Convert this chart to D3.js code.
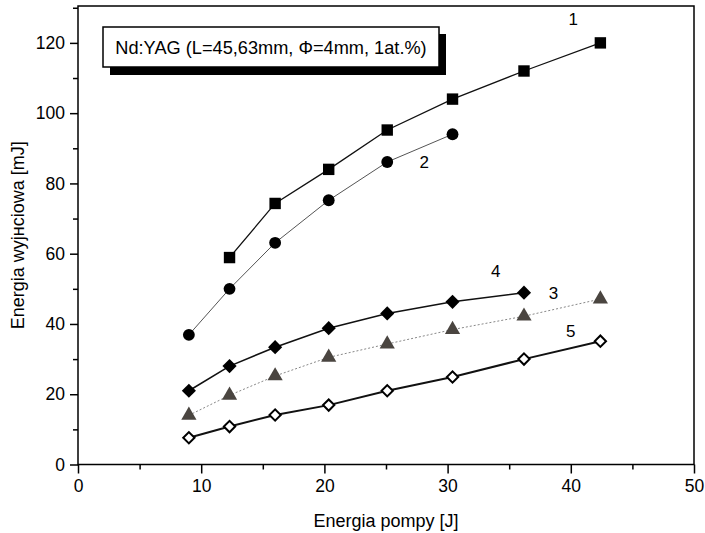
<!DOCTYPE html>
<html><head><meta charset="utf-8">
<script src="https://cdn.jsdelivr.net/npm/d3@7"></script>
<style>body{margin:0;background:#fff}svg{display:block}</style>
</head><body><svg id="c" width="705" height="533"></svg>
<script>
const xPump = [9.0, 12.3, 16.0, 20.35, 25.1, 30.4, 36.2, 42.4];
const s1 = [null, 58.9, 74.3, 84.0, 95.2, 104.0, 112.0, 120.0];
const s2 = [36.9, 50.0, 63.1, 75.2, 86.1, 94.0, null, null];
const s3 = [14.0, 19.7, 25.2, 30.5, 34.3, 38.4, 42.2, 47.1];
const s4 = [21.0, 28.0, 33.4, 38.8, 43.0, 46.3, 48.9, null];
const s5 = [7.6, 10.8, 14.1, 16.9, 21.0, 24.9, 30.0, 35.1];
const seriesNames = ["1", "2", "3", "4", "5"];
const xTicks = [0, 10, 20, 30, 40, 50];
const yTicks = [0, 20, 40, 60, 80, 100, 120];
const legendText = "Nd:YAG (L=45,63mm, \u03A6=4mm, 1at.%)";
const xTitle = "Energia pompy [J]";
const yTitle = "Energia wyjнсiowa [mJ]";

const svg = d3.select("#c");
const L = 78, R = 694, T = 6, B = 464.5;
const x = d3.scaleLinear().domain([0, 50]).range([L, R]);
const y = d3.scaleLinear().domain([0, 130.5]).range([B, T]);
const font = "Liberation Sans, Arial, sans-serif";

// frame
svg.append("rect").attr("x", L).attr("y", T).attr("width", R - L).attr("height", B - T)
  .attr("fill", "none").attr("stroke", "#000").attr("stroke-width", 1.5);

// axes
const xAx = svg.append("g").attr("transform", `translate(0,${B})`)
  .call(d3.axisBottom(x).tickValues(xTicks).tickSize(9).tickPadding(6).tickFormat(d3.format("d")));
const xMin = svg.append("g").attr("transform", `translate(0,${B})`)
  .call(d3.axisBottom(x).tickValues([5, 15, 25, 35, 45]).tickSize(5).tickFormat(""));
const yAx = svg.append("g").attr("transform", `translate(${L},0)`)
  .call(d3.axisLeft(y).tickValues(yTicks).tickSize(8).tickPadding(5).tickFormat(d3.format("d")));
const yMin = svg.append("g").attr("transform", `translate(${L},0)`)
  .call(d3.axisLeft(y).tickValues([10, 30, 50, 70, 90, 110, 130]).tickSize(5).tickFormat(""));
[xAx, xMin, yAx, yMin].forEach(g => {
  g.select(".domain").remove();
  g.selectAll("line").attr("stroke", "#000").attr("stroke-width", 1.5);
  g.selectAll("text").attr("font-family", font).attr("font-size", 17.5).attr("fill", "#000");
});

// titles
svg.append("text").attr("x", (L + R) / 2).attr("y", 527).attr("text-anchor", "middle")
  .attr("font-family", font).attr("font-size", 18).text(xTitle);
svg.append("text").attr("transform", `translate(24,${(T + B) / 2}) rotate(-90)`)
  .attr("text-anchor", "middle").attr("font-family", font).attr("font-size", 18).text(yTitle);

// legend box
svg.append("rect").attr("x", 110).attr("y", 34).attr("width", 336).attr("height", 41).attr("fill", "#000");
svg.append("rect").attr("x", 103).attr("y", 27).attr("width", 336).attr("height", 40)
  .attr("fill", "#fff").attr("stroke", "#000").attr("stroke-width", 1.5);
svg.append("text").attr("x", 271).attr("y", 54).attr("text-anchor", "middle")
  .attr("font-family", font).attr("font-size", 18.2).text(legendText);

function pts(vals) { return xPump.map((xv, i) => ({ x: xv, y: vals[i] })).filter(d => d.y != null); }
const line = d3.line().x(d => x(d.x)).y(d => y(d.y));

const defs = [
  { v: s1, stroke: "#111", sw: 1.3, dash: null, sym: d3.symbolSquare, size: 130, rot: 0, fill: "#000", mstroke: "none", msw: 0 },
  { v: s2, stroke: "#555", sw: 1, dash: null, sym: d3.symbolCircle, size: 110, rot: 0, fill: "#000", mstroke: "none", msw: 0 },
  { v: s3, stroke: "#888", sw: 1, dash: "2,2", sym: d3.symbolTriangle, size: 100, rot: 0, fill: "#4a4540", mstroke: "none", msw: 0 },
  { v: s4, stroke: "#111", sw: 1.6, dash: null, sym: d3.symbolSquare, size: 100, rot: 45, fill: "#000", mstroke: "none", msw: 0 },
  { v: s5, stroke: "#111", sw: 2, dash: null, sym: d3.symbolSquare, size: 64, rot: 45, fill: "#fff", mstroke: "#000", msw: 2 }
];
defs.forEach(s => {
  const p = pts(s.v);
  svg.append("path").datum(p).attr("d", line).attr("fill", "none")
    .attr("stroke", s.stroke).attr("stroke-width", s.sw).attr("stroke-dasharray", s.dash);
});
defs.forEach(s => {
  const p = pts(s.v);
  svg.append("g").selectAll("path").data(p).join("path")
    .attr("transform", d => `translate(${x(d.x)},${y(d.y)}) rotate(${s.rot})`)
    .attr("d", d3.symbol().type(s.sym).size(s.size))
    .attr("fill", s.fill).attr("stroke", s.mstroke).attr("stroke-width", s.msw);
});

// series labels
const labelPos = [{ n: "1", x: 40.2, y: 125 }, { n: "2", x: 28.1, y: 84.5 }, { n: "4", x: 33.9, y: 53.5 }, { n: "3", x: 38.6, y: 47 }, { n: "5", x: 40.0, y: 36.2 }];
svg.append("g").selectAll("text").data(labelPos).join("text")
  .attr("x", d => x(d.x)).attr("y", d => y(d.y)).attr("text-anchor", "middle")
  .attr("font-family", font).attr("font-size", 17).text(d => d.n);
</script></body></html>
